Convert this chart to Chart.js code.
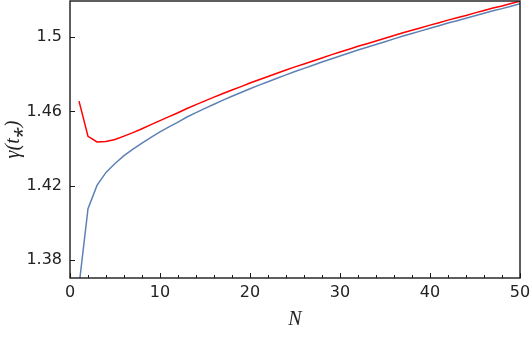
<!DOCTYPE html>
<html lang="en">
<head>
  <meta charset="UTF-8" />
  <title>gamma(t*) vs N</title>
  <script src="https://cdn.jsdelivr.net/npm/chart.js"></script>
  <style>
    body {
      margin: 0;
      background: #ffffff;
    }
    #wrap {
      width: 532px;
      height: 337px;
    }
  </style>
</head>
<body>

<div id="wrap"><canvas id="grafik" width="532" height="337"></canvas></div>

<script>
// values
const nValues = [1, 2, 3, 4, 5, 6, 7, 8, 9, 10,
  11, 12, 13, 14, 15, 16, 17, 18, 19, 20,
  21, 22, 23, 24, 25, 26, 27, 28, 29, 30,
  31, 32, 33, 34, 35, 36, 37, 38, 39, 40,
  41, 42, 43, 44, 45, 46, 47, 48, 49, 50];

const redValues = [1.4656, 1.4466, 1.4436, 1.4438, 1.4449, 1.4467, 1.4486, 1.4507, 1.4529, 1.4551,
  1.4572, 1.4593, 1.4616, 1.4637, 1.4657, 1.4677, 1.4697, 1.4716, 1.4734, 1.4753,
  1.4771, 1.4788, 1.4806, 1.4823, 1.4840, 1.4856, 1.4872, 1.4888, 1.4905, 1.4920,
  1.4935, 1.4951, 1.4965, 1.4980, 1.4994, 1.5009, 1.5024, 1.5037, 1.5051, 1.5065,
  1.5078, 1.5092, 1.5105, 1.5117, 1.5131, 1.5144, 1.5157, 1.5168, 1.5181, 1.5194];

const blueValues = [1.3660, 1.4076, 1.4202, 1.4272, 1.4320, 1.4362, 1.4397, 1.4430, 1.4461, 1.4490,
  1.4517, 1.4543, 1.4570, 1.4594, 1.4617, 1.4639, 1.4661, 1.4682, 1.4702, 1.4722,
  1.4742, 1.4760, 1.4779, 1.4797, 1.4815, 1.4832, 1.4849, 1.4866, 1.4883, 1.4899,
  1.4915, 1.4931, 1.4946, 1.4961, 1.4976, 1.4991, 1.5006, 1.5020, 1.5034, 1.5048,
  1.5062, 1.5076, 1.5089, 1.5102, 1.5116, 1.5129, 1.5142, 1.5154, 1.5167, 1.5180];

const xTickValues = [0, 10, 20, 30, 40, 50];
const yTickValues = [1.38, 1.42, 1.46, 1.5];
const yTickLabels = ['1.38', '1.42', '1.46', '1.5'];

const toPoints = (ys) => nValues.map((n, i) => ({ x: n, y: ys[i] }));

// frame + inward tick marks, like the Mathematica frame
const frameTicks = {
  id: 'frameTicks',
  afterDatasetsDraw(chart) {
    const { ctx, chartArea: a, scales } = chart;
    ctx.save();
    ctx.strokeStyle = '#1a1a1a';
    ctx.lineWidth = 1;
    ctx.beginPath();
    scales.x.ticks.forEach(t => {
      const px = Math.round(scales.x.getPixelForValue(t.value)) + 0.5;
      const len = xTickValues.includes(t.value) ? 5 : 3;
      ctx.moveTo(px, a.bottom);
      ctx.lineTo(px, a.bottom - len);
    });
    scales.y.ticks.forEach(t => {
      const py = Math.round(scales.y.getPixelForValue(t.value)) + 0.5;
      ctx.moveTo(a.left, py);
      ctx.lineTo(a.left + 5, py);
    });
    ctx.stroke();
    ctx.lineWidth = 1.4;
    ctx.strokeRect(a.left, a.top, a.right - a.left, a.bottom - a.top);
    ctx.restore();
  }
};

new Chart(document.getElementById('grafik'), {
  type: 'line',
  data: {
    datasets: [
      {
        label: 'blue',
        data: toPoints(blueValues),
        borderColor: '#5e81b5',
        borderWidth: 1.5,
        pointRadius: 0,
        tension: 0,
        fill: false
      },
      {
        label: 'red',
        data: toPoints(redValues),
        borderColor: '#ff0000',
        borderWidth: 1.5,
        pointRadius: 0,
        tension: 0,
        fill: false
      }
    ]
  },
  options: {
    responsive: false,
    animation: false,
    events: [],
    layout: { padding: { top: 1, right: 12, bottom: 0, left: 0 } },
    plugins: {
      legend: { display: false },
      tooltip: { enabled: false }
    },
    scales: {
      x: {
        type: 'linear',
        min: 0,
        max: 50,
        grid: { display: false, drawTicks: false },
        border: { display: false },
        ticks: {
          stepSize: 2,
          autoSkip: false,
          maxRotation: 0,
          padding: 5,
          color: '#222',
          font: { family: 'DejaVu Sans', size: 16 },
          callback: (v) => xTickValues.includes(v) ? String(v) : ''
        },
        title: {
          display: true,
          text: 'N',
          color: '#222',
          padding: { top: 0, bottom: 5 },
          font: { family: 'Liberation Serif', size: 20, style: 'italic' }
        },
        afterFit: (s) => { s.height = 59; s.paddingLeft = 0; s.paddingRight = 0; }
      },
      y: {
        min: 1.3703,
        max: 1.5195,
        grid: { display: false, drawTicks: false },
        border: { display: false },
        afterBuildTicks: (s) => { s.ticks = yTickValues.map(v => ({ value: v })); },
        ticks: {
          padding: 8,
          color: '#222',
          font: { family: 'DejaVu Sans', size: 16 },
          callback: (v) => yTickLabels[yTickValues.indexOf(v)]
        },
        title: {
          display: true,
          text: 'γ(t⁎)',
          color: '#222',
          padding: { top: 2, bottom: 0 },
          font: { family: 'Liberation Serif', size: 20, style: 'italic' }
        },
        afterFit: (s) => { s.width = 70; s.paddingTop = 0; s.paddingBottom = 0; }
      }
    }
  },
  plugins: [frameTicks]
});
</script>

</body>
</html>
